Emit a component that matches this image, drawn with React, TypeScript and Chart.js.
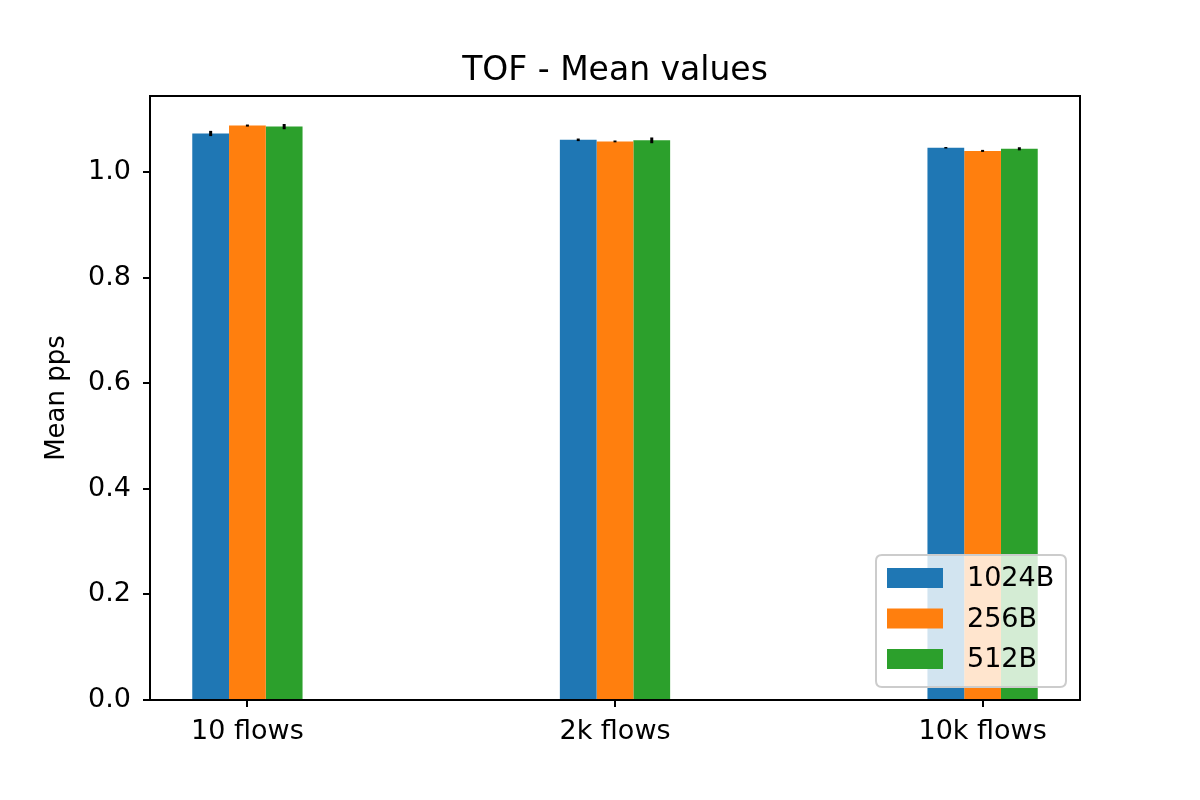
import React, { useEffect, useRef } from "react";
import { Chart, registerables } from "chart.js";

Chart.register(...registerables);

const categories = ["10 flows", "2k flows", "10k flows"];
const seriesLabels = ["1024B", "256B", "512B"];
const values1024 = [1.073, 1.061, 1.046];
const values256 = [1.088, 1.058, 1.040];
const values512 = [1.086, 1.060, 1.044];
const err1024 = [0.004, 0.0015, 0.0005];
const err256 = [0.001, 0.0008, 0.001];
const err512 = [0.004, 0.0045, 0.002];
const yTicks = [0, 0.2, 0.4, 0.6, 0.8, 1.0];
const colors = ["#1f77b4", "#ff7f0e", "#2ca02c"];
const chartTitle = "TOF - Mean values";

const FONT = "'DejaVu Sans', sans-serif";

const errorBarPlugin = {
  id: "errorBars",
  afterDatasetsDraw(chart: any) {
    const ctx = chart.ctx;
    const yScale = chart.scales.y;
    ctx.save();
    ctx.strokeStyle = "#000";
    ctx.lineWidth = 3;
    chart.data.datasets.forEach((ds: any, di: number) => {
      const meta = chart.getDatasetMeta(di);
      meta.data.forEach((bar: any, i: number) => {
        const v = ds.data[i].y;
        const e = ds.errors[i];
        const y1 = yScale.getPixelForValue(v - e);
        const y2 = yScale.getPixelForValue(v + e);
        ctx.beginPath();
        ctx.moveTo(bar.x, Math.max(y1, y2) + 0.5);
        ctx.lineTo(bar.x, Math.min(y1, y2) - 0.5);
        ctx.stroke();
      });
    });
    ctx.restore();
  },
};

const framePlugin = {
  id: "frame",
  afterDraw(chart: any) {
    const { ctx, chartArea } = chart;
    ctx.save();
    ctx.strokeStyle = "#000";
    ctx.lineWidth = 2;
    ctx.strokeRect(chartArea.left, chartArea.top, chartArea.right - chartArea.left, chartArea.bottom - chartArea.top);

    // title centred over the axes
    ctx.font = `33px ${FONT}`;
    ctx.fillStyle = "#000";
    ctx.textAlign = "center";
    ctx.textBaseline = "middle";
    ctx.fillText(chartTitle, (chartArea.left + chartArea.right) / 2, chartArea.top - 25);
    ctx.restore();

    // legend (lower right, inside axes)
    const bx = chartArea.right - 204;
    const by = chartArea.bottom - 145;
    const bw = 190;
    const bh = 132;
    ctx.save();
    ctx.beginPath();
    const r = 6;
    ctx.moveTo(bx + r, by);
    ctx.lineTo(bx + bw - r, by);
    ctx.quadraticCurveTo(bx + bw, by, bx + bw, by + r);
    ctx.lineTo(bx + bw, by + bh - r);
    ctx.quadraticCurveTo(bx + bw, by + bh, bx + bw - r, by + bh);
    ctx.lineTo(bx + r, by + bh);
    ctx.quadraticCurveTo(bx, by + bh, bx, by + bh - r);
    ctx.lineTo(bx, by + r);
    ctx.quadraticCurveTo(bx, by, bx + r, by);
    ctx.closePath();
    ctx.fillStyle = "rgba(255,255,255,0.8)";
    ctx.fill();
    ctx.strokeStyle = "#cccccc";
    ctx.lineWidth = 2;
    ctx.stroke();
    ctx.font = `27px ${FONT}`;
    ctx.textBaseline = "middle";
    ctx.textAlign = "left";
    chart.data.datasets.forEach((ds: any, i: number) => {
      const cy = by + 23 + i * 40.5;
      ctx.fillStyle = ds.backgroundColor;
      ctx.fillRect(bx + 11, cy - 10, 56, 20);
      ctx.fillStyle = "#000";
      ctx.fillText(ds.label, bx + 91, cy + 1);
    });
    ctx.restore();
  },
};

export default function App() {
  const ref = useRef<HTMLCanvasElement | null>(null);
  useEffect(() => {
    if (!ref.current) return;
    const series = [values1024, values256, values512];
    const errs = [err1024, err256, err512];
    const chart = new Chart(ref.current, {
      type: "bar",
      data: {
        datasets: seriesLabels.map((label, si) => ({
          label,
          data: series[si].map((v, i) => ({ x: i, y: v })),
          errors: errs[si],
          backgroundColor: colors[si],
          borderWidth: 0,
          categoryPercentage: 0.3,
          barPercentage: 1.0,
        })) as any,
      },
      options: {
        responsive: false,
        animation: false,
        events: [],
        layout: { padding: { left: 0, right: 120, top: 96, bottom: 0 } },
        plugins: {
          legend: { display: false },
          tooltip: { enabled: false },
          title: { display: false },
        },
        scales: {
          x: {
            type: "linear",
            min: -0.265,
            max: 2.265,
            offset: false,
            afterBuildTicks: (scale: any) => {
              scale.ticks = categories.map((_, i) => ({ value: i }));
            },
            afterFit: (scale: any) => {
              scale.height = 100;
            },
            ticks: {
              color: "#000",
              font: { family: FONT, size: 27 },
              padding: 9,
              maxRotation: 0,
              autoSkip: false,
              callback: (v: any) => categories[v] ?? "",
            },
            grid: {
              display: true,
              offset: false,
              drawOnChartArea: false,
              drawTicks: true,
              tickLength: 7,
              color: "#000",
              lineWidth: 2,
            },
            border: { display: true, color: "#000", width: 2 },
          },
          y: {
            type: "linear",
            min: 0,
            max: 1.144,
            afterBuildTicks: (scale: any) => {
              scale.ticks = yTicks.map((v) => ({ value: v }));
            },
            afterFit: (scale: any) => {
              scale.width = 150;
            },
            title: {
              display: true,
              text: "Mean pps",
              color: "#000",
              font: { family: FONT, size: 26 },
              padding: { top: 42, bottom: 0 },
            },
            ticks: {
              color: "#000",
              font: { family: FONT, size: 27 },
              padding: 12,
              callback: (v: any) => Number(v).toFixed(1),
            },
            grid: {
              display: true,
              drawOnChartArea: false,
              drawTicks: true,
              tickLength: 7,
              color: "#000",
              lineWidth: 2,
            },
            border: { display: true, color: "#000", width: 2 },
          },
        },
      },
      plugins: [errorBarPlugin, framePlugin],
    });
    return () => chart.destroy();
  }, []);
  return (
    <div style={{ position: "absolute", left: 0, top: 0, width: 1200, height: 800, background: "#fff" }}>
      <canvas ref={ref} width={1200} height={800} style={{ display: "block" }} />
    </div>
  );
}
